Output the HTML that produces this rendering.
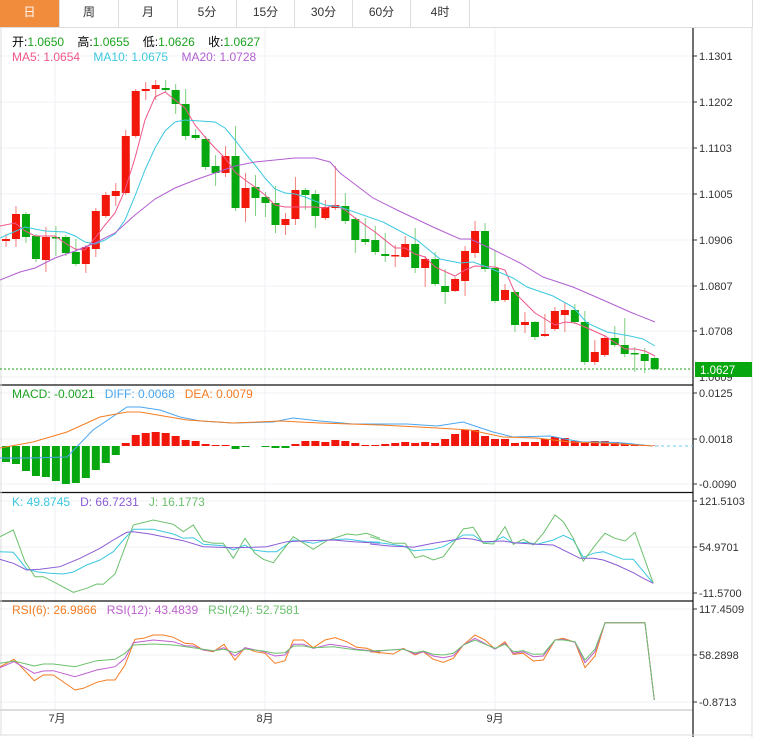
<!DOCTYPE html>
<html><head><meta charset="utf-8"><style>
*{margin:0;padding:0}
body{width:759px;height:737px;background:#fff;overflow:hidden;font-family:"Liberation Sans","Noto Sans CJK SC",sans-serif;position:relative}
.tabs{position:absolute;left:0;top:0;width:752px;height:27px;border-bottom:1px solid #ddd;border-right:1px solid #ddd}
.tab{position:absolute;top:0;height:27px;line-height:25px;text-align:center;font-size:12px;color:#333;border-right:1px solid #ddd}
.t{position:absolute;font-size:12px;line-height:14px;white-space:nowrap}
svg{position:absolute;left:0;top:0}
</style></head><body>
<div class="tabs">
<div class="tab" style="left:0;width:59px;background:#f18c3d;color:#fff">日</div>
<div class="tab" style="left:60px;width:58px">周</div>
<div class="tab" style="left:119px;width:58px">月</div>
<div class="tab" style="left:178px;width:58px">5分</div>
<div class="tab" style="left:237px;width:57px">15分</div>
<div class="tab" style="left:295px;width:57px">30分</div>
<div class="tab" style="left:353px;width:57px">60分</div>
<div class="tab" style="left:411px;width:58px">4时</div>
</div>
<svg id="s" width="759" height="737" xmlns="http://www.w3.org/2000/svg"></svg>
<div class="t" style="left:12px;top:35px">开:<span style="color:#1aa31f">1.0650</span>&nbsp;&nbsp;&nbsp; 高:<span style="color:#1aa31f">1.0655</span>&nbsp;&nbsp;&nbsp; 低:<span style="color:#1aa31f">1.0626</span>&nbsp;&nbsp;&nbsp; 收:<span style="color:#1aa31f">1.0627</span></div>
<div class="t" style="left:12px;top:50px"><span style="color:#f0578b">MA5: 1.0654</span>&nbsp;&nbsp;&nbsp; <span style="color:#3cc8df">MA10: 1.0675</span>&nbsp;&nbsp;&nbsp; <span style="color:#b25fd0">MA20: 1.0728</span></div>
<div class="t" style="left:12px;top:387px"><span style="color:#1aa31f">MACD: -0.0021</span>&nbsp;&nbsp; <span style="color:#4aa6f0">DIFF: 0.0068</span>&nbsp;&nbsp; <span style="color:#f57c22">DEA: 0.0079</span></div>
<div class="t" style="left:12px;top:495px"><span style="color:#3cc8df">K: 49.8745</span>&nbsp;&nbsp; <span style="color:#8a5bd6">D: 66.7231</span>&nbsp;&nbsp; <span style="color:#6cc06c">J: 16.1773</span></div>
<div class="t" style="left:12px;top:603px"><span style="color:#f57c22">RSI(6): 26.9866</span>&nbsp;&nbsp; <span style="color:#c060d0">RSI(12): 43.4839</span>&nbsp;&nbsp; <span style="color:#6cc06c">RSI(24): 52.7581</span></div>
<script>
var s=document.getElementById('s'),h='';
function L(x1,y1,x2,y2,c,w,d){h+='<line x1="'+x1+'" y1="'+y1+'" x2="'+x2+'" y2="'+y2+'" stroke="'+c+'" stroke-width="'+(w||1)+'"'+(d?' stroke-dasharray="'+d+'"':'')+'/>';}
function R(x,y,w,hh,c){h+='<rect x="'+x+'" y="'+y+'" width="'+w+'" height="'+hh+'" fill="'+c+'"/>';}
function T(x,y,t,c,a){h+='<text x="'+x+'" y="'+y+'" font-size="11" fill="'+(c||'#333')+'"'+(a?' text-anchor="'+a+'"':'')+'>'+t+'</text>';}
function P(pts,c,ox,oy,sc){var p=pts.map(function(q){return (ox+q[0]/sc).toFixed(1)+','+(oy+q[1]/sc).toFixed(1)}).join(' ');h+='<polyline points="'+p+'" fill="none" stroke="'+c+'" stroke-width="1"/>';}
var G='#edf1f4';
[56,102,148,194,240,286,331,377,393,439,484,501,547,593,609,655,702].forEach(function(y){L(0,y,693,y,G,1);});
[55,265,495].forEach(function(x){L(x,28,x,710,G,1);});
L(0,385,693,385,'#111',1.2);L(0,492.5,693,492.5,'#111',1.2);L(0,601,693,601,'#111',1.2);L(0,710,693,710,'#bbb',1);
L(693,28,693,737,'#111',1.2);L(752,27,752,737,'#ddd',1);L(0,735,752,735,'#ddd',1);L(1,28,1,735,'#ddd',1);
[[56,'1.1301'],[102,'1.1202'],[148,'1.1103'],[194,'1.1005'],[240,'1.0906'],[286,'1.0807'],[331,'1.0708'],[393,'0.0125'],[439,'0.0018'],[484,'-0.0090'],[501,'121.5103'],[547,'54.9701'],[593,'-11.5700'],[609,'117.4509'],[655,'58.2898'],[702,'-0.8713']].forEach(function(a){L(693,a[0],697,a[0],'#333',1);T(699,a[0]+4,a[1]);});
T(699,381,'1.0609');
T(57,722,'7月','#333','middle');T(265,722,'8月','#333','middle');T(495,722,'9月','#333','middle');
var C=[['r',239,241,234,247],['r',214,239,206,247],['g',214,237,212,243],['g',236,259,234,262],['r',237,260,227,272],['g',237,238,226,256],['g',237,253,235,256],['g',252,264,239,266],['r',247,264,245,273],['r',211,249,208,257],['r',195,216,192,218],['r',191,196,183,206],['r',136,193,130,195],['r',91,136,89,138],['r',89,91,82,100],['r',85,89,80,100],['g',88,90,80,92],['g',90,104,84,114],['g',104,136,89,140],['g',135,138,129,140],['g',139,167,136,170],['g',166,173,155,186],['r',156,173,146,177],['g',156,208,126,211],['r',188,208,173,222],['g',187,198,175,216],['g',197,203,192,217],['g',203,225,186,233],['r',219,225,213,235],['r',190,219,177,225],['g',190,195,188,210],['g',194,216,190,228],['r',207,218,200,220],['r',205,208,166,210],['g',206,221,193,224],['g',219,240,217,253],['g',239,242,218,245],['g',240,252,226,255],['g',254,256,233,262],['r',255,256,245,267],['r',244,257,236,258],['g',244,268,228,273],['r',259,268,256,287],['g',259,284,252,286],['g',286,292,269,304],['r',279,291,277,292],['r',251,281,246,296],['r',231,253,221,258],['g',231,269,223,272],['g',268,301,250,303],['r',290,300,284,302],['g',292,325,290,332],['r',322,325,312,333],['g',322,337,321,340],['r',334,336,314,337],['r',311,329,307,331],['r',310,315,303,332],['g',310,322,304,324],['g',322,362,311,365],['r',352,362,340,365],['r',338,355,335,357],['g',338,345,326,347],['g',345,354,318,357],['g',353,354,347,372],['g',354,361,348,373],['g',358,369,357,370]];
C.forEach(function(c,i){var x=6+i*9.98,col=c[0]=='r'?'#f2170b':'#07a80f',wc=c[0]=='r'?'#f47f7a':'#7fd07f';L(x,c[3],x,c[4],wc,1);R(x-4,c[1],8,Math.max(1.5,c[2]-c[1]),col);});
P([[0,226],[15,223],[25,231],[35,236],[55,236],[65,243],[75,249],[85,250],[95,238],[105,225],[115,213],[125,190],[135,158],[145,120],[155,97],[165,92],[175,100],[185,108],[195,125],[205,137],[215,148],[225,158],[235,172],[245,180],[255,187],[265,195],[275,205],[285,207],[315,207],[325,208],[335,205],[345,210],[355,218],[375,232],[395,248],[405,248],[415,254],[425,257],[435,267],[455,276],[465,270],[475,266],[495,267],[505,270],[515,293],[535,313],[555,325],[565,322],[575,323],[585,327],[605,336],[625,349],[635,349],[645,351],[655,356]],'#f0578b',0,0,1);
P([[0,238],[25,227],[45,231],[65,232],[75,236],[85,242],[95,244],[105,240],[115,234],[125,220],[135,196],[145,170],[155,148],[165,131],[175,122],[185,120],[215,122],[225,128],[235,140],[245,153],[255,165],[265,178],[275,189],[285,193],[295,194],[305,197],[315,201],[325,205],[340,207],[383,222],[417,240],[440,259],[460,263],[473,262],[487,267],[513,278],[527,287],[553,296],[573,307],[587,323],[607,332],[630,336],[643,339],[655,346]],'#3cc8df',0,0,1);
P([[0,280],[20,272],[35,268],[55,258],[75,251],[95,243],[115,233],[135,215],[155,199],[175,188],[195,180],[215,173],[235,166],[255,162],[275,160],[295,158],[315,158],[330,162],[340,173],[373,198],[397,210],[433,227],[460,239],[470,239],[490,248],[520,263],[543,277],[573,287],[603,300],[630,312],[655,322]],'#b25fd0',0,0,1);
L(0,369,693,369,'#1aa31f',1,'2,2');R(695,362,57,15,'#07a80f');
h+='<text x="700" y="374" font-size="11.5" fill="#fff">1.0627</text>';
var M=[-16,-18,-25,-30,-31,-35,-38,-37,-32,-24,-17,-9,3,11,13,14,13,10,6,5,2,1,1,-3,-1,0,-1,-2,-2,2,5,5,4,6,5,3,1,1,2,3,4,3,4,3,7,12,16,16,10,7,7,3,4,4,7,9,8,5,3,5,5,4,3,2,0.5,0.5];
M.forEach(function(v,i){var x=6+i*9.98;if(v>=0)R(x-4,446-v,8,v,'#f2170b');else R(x-4,446,8,-v,'#07a80f');});
L(655,446,693,446,'#6cc8f0',1,'3,3');
P([[0,458],[30,458],[67,457],[93,430],[127,407],[140,407],[160,410],[180,417],[200,421],[233,423],[273,422],[293,418],[320,421],[353,424],[407,424],[437,426],[463,422],[493,432],[513,437],[550,436],[570,440],[583,442],[603,442],[623,443],[653,446]],'#4aa6f0',0,0,1);
P([[0,448],[33,442],[67,432],[100,417],[127,412],[140,412],[187,420],[233,423],[280,421],[320,423],[380,425],[437,428],[470,430],[503,437],[537,438],[570,442],[603,443],[653,446]],'#f57c22',0,0,1);
P([[0,185],[40,187],[80,237],[110,245],[150,250],[190,252],[220,246],[260,225],[300,210],[340,185],[370,150],[400,118],[460,118],[520,132],[550,145],[580,143],[610,163],[670,167],[700,180],[735,165],[760,180],[800,185],[830,185],[880,150],[940,160],[980,150],[1040,147],[1100,155],[1140,157]],'#3cc8df',0,490,3);
P([[0,140],[40,120],[75,215],[105,260],[130,260],[160,275],[220,307],[260,295],[290,282],[310,283],[345,252],[400,105],[460,90],[520,103],[550,125],[580,105],[610,153],[640,160],[670,160],[700,205],[735,145],[765,190],[790,208],[820,218],[880,140],[940,178],[980,152],[1040,132],[1070,135],[1100,130],[1140,145]],'#6cc06c',0,490,3);
P([[0,208],[40,220],[80,240],[120,238],[180,230],[240,205],[300,175],[340,150],[380,127],[400,125],[450,132],[550,152],[610,170],[700,173],[760,172],[800,170],[860,155],[920,152],[1000,150],[1060,155],[1140,160]],'#8a5bd6',0,490,3);
P([[0,155],[40,160],[100,168],[130,182],[190,178],[220,170],[280,135],[310,135],[340,157],[370,155],[400,140],[430,160],[470,157],[500,163],[550,150],[580,136],[610,150],[640,202],[670,190],[700,185],[760,208],[790,208],[850,280]],'#3cc8df',370,490,3);
P([[0,140],[70,160],[105,160],[135,203],[160,197],[190,210],[220,200],[250,160],[280,117],[310,112],[340,160],[370,162],[405,110],[430,163],[460,148],[490,165],[520,130],[555,75],[580,95],[610,145],[640,213],[680,160],[705,130],[735,145],[765,153],[795,127],[850,280]],'#6cc06c',370,490,3);
P([[0,162],[60,168],[110,170],[130,172],[190,160],[250,150],[280,145],[310,148],[340,155],[400,153],[430,158],[500,163],[550,165],[600,190],[630,205],[670,205],[700,210],[740,225],[790,248],[820,265],[850,280]],'#8a5bd6',370,490,3);
P([[0,215],[42,193],[103,257],[130,240],[160,240],[225,285],[250,280],[290,262],[320,255],[345,255],[375,210],[405,133],[430,130],[460,120],[490,120],[520,127],[555,145],[580,147],[610,165],[640,170],[672,148],[705,195],[735,158],[765,170],[795,175],[825,205],[855,197],[880,135],[910,135],[940,158],[975,135],[1005,128],[1040,140],[1070,157],[1100,160],[1140,175]],'#f57c22',0,595,3);
P([[0,218],[42,200],[103,235],[130,228],[160,227],[225,245],[290,225],[345,215],[375,190],[400,143],[460,135],[520,140],[555,152],[580,153],[610,165],[640,168],[672,158],[705,183],[735,158],[790,170],[825,183],[855,180],[880,148],[910,148],[940,160],[990,148],[1040,155],[1070,163],[1140,170]],'#c060d0',0,595,3);
P([[0,205],[42,198],[103,213],[130,207],[160,207],[225,215],[290,197],[345,193],[375,175],[400,150],[460,147],[520,150],[580,158],[640,167],[672,163],[705,173],[735,162],[790,168],[825,175],[855,173],[880,153],[910,153],[940,158],[1000,155],[1070,165],[1140,170]],'#6cc06c',0,595,3);
P([[0,170],[70,177],[100,160],[135,180],[160,170],[190,193],[220,202],[250,190],[280,150],[315,120],[345,135],[375,162],[405,140],[430,178],[460,175],[490,198],[520,195],[555,135],[580,130],[615,142],[645,218],[675,183],[705,83],[825,83],[853,315]],'#f57c22',370,595,3);
P([[0,170],[100,162],[135,177],[160,170],[190,183],[220,188],[250,182],[280,150],[315,130],[375,162],[405,145],[430,175],[460,170],[490,185],[520,183],[555,135],[580,133],[615,142],[645,203],[675,170],[705,83],[825,83],[853,315]],'#c060d0',370,595,3);
P([[0,168],[100,163],[135,173],[160,168],[190,178],[220,180],[250,175],[280,150],[315,135],[375,160],[405,148],[430,170],[460,167],[490,178],[520,177],[555,135],[580,135],[615,140],[645,195],[675,163],[705,83],[825,83],[853,315]],'#6cc06c',370,595,3);
s.innerHTML=h;
</script>
</body></html>
